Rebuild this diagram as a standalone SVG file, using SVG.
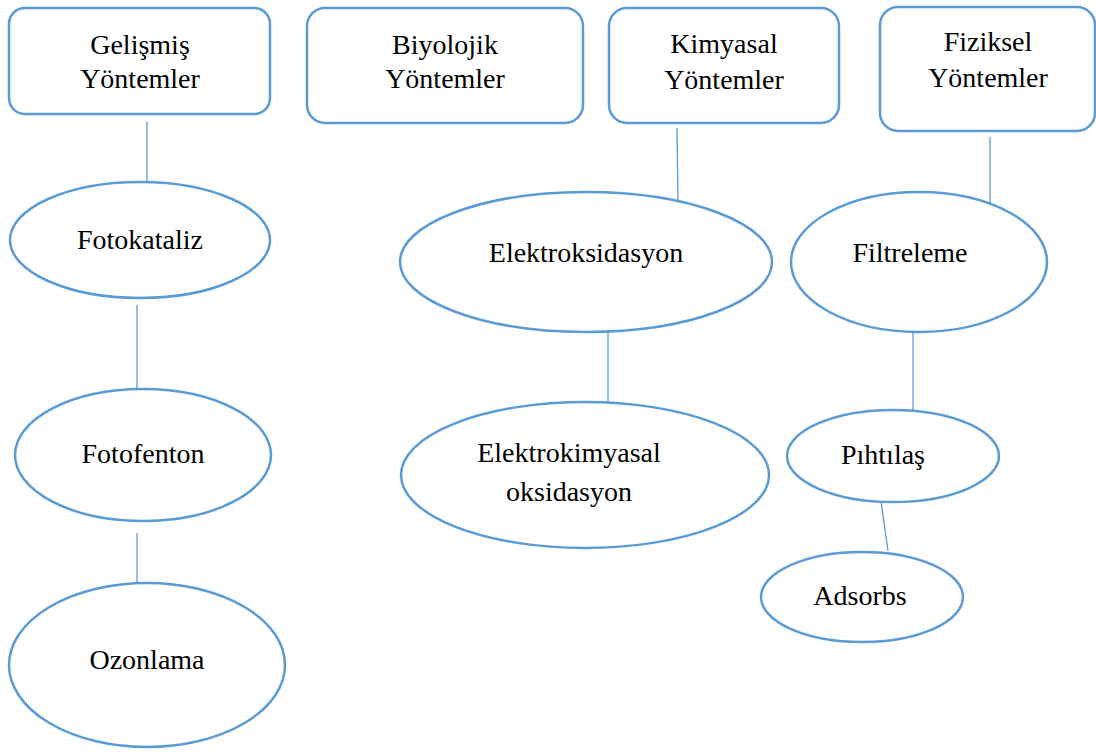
<svg xmlns="http://www.w3.org/2000/svg" width="1096" height="754" viewBox="0 0 1096 754">
<style>
.n{fill:#fff;stroke:#5B9BD5;stroke-width:2.5}
.c line{stroke:#5B9BD5;stroke-width:1.3}
.t text{font-size:28px;fill:#000;text-anchor:middle}
</style>
<rect width="1096" height="754" fill="#fff"/>
<g class="c" id="connectors">
<line x1="147" y1="122" x2="147" y2="182"/>
<line x1="137" y1="305" x2="137" y2="390"/>
<line x1="137" y1="533" x2="137" y2="585"/>
<line x1="677" y1="128" x2="678" y2="203"/>
<line x1="990" y1="137" x2="990" y2="204"/>
<line x1="608" y1="328" x2="608" y2="405"/>
<line x1="913" y1="330" x2="913" y2="410"/>
<line x1="880" y1="494" x2="888" y2="551"/>
</g>
<g class="t" font-family="'Liberation Serif', 'DejaVu Serif', serif">
<g id="gelismis"><rect class="n" x="9" y="8" width="261" height="106" rx="16"/><text x="140" y="54">Gelişmiş</text><text x="140" y="88">Yöntemler</text></g>
<g id="biyolojik"><rect class="n" x="307" y="8" width="276" height="115" rx="18"/><text x="445" y="54">Biyolojik</text><text x="445" y="88">Yöntemler</text></g>
<g id="kimyasal"><rect class="n" x="609" y="8" width="230" height="115" rx="18"/><text x="724" y="53">Kimyasal</text><text x="724" y="89">Yöntemler</text></g>
<g id="fiziksel"><rect class="n" x="880" y="7" width="215" height="124" rx="18"/><text x="988" y="51">Fiziksel</text><text x="988" y="87">Yöntemler</text></g>
<g id="fotokataliz"><ellipse class="n" cx="140" cy="240" rx="130" ry="58"/><text x="140" y="249">Fotokataliz</text></g>
<g id="fotofenton"><ellipse class="n" cx="143" cy="455" rx="128" ry="66"/><text x="143" y="463">Fotofenton</text></g>
<g id="ozonlama"><ellipse class="n" cx="147" cy="665" rx="138" ry="82"/><text x="147" y="669">Ozonlama</text></g>
<g id="elektroksidasyon"><ellipse class="n" cx="586" cy="262" rx="186" ry="70"/><text x="586" y="262">Elektroksidasyon</text></g>
<g id="elektrokimyasal"><ellipse class="n" cx="585" cy="475" rx="184" ry="73"/><text x="569" y="462">Elektrokimyasal</text><text x="569" y="501">oksidasyon</text></g>
<g id="filtreleme"><ellipse class="n" cx="919" cy="262" rx="128" ry="70"/><text x="910" y="262">Filtreleme</text></g>
<g id="pihtilas"><ellipse class="n" cx="893" cy="456" rx="106" ry="46"/><text x="883" y="464">Pıhtılaş</text></g>
<g id="adsorbs"><ellipse class="n" cx="862" cy="597" rx="101" ry="45"/><text x="860" y="605">Adsorbs</text></g>
</g>
</svg>
